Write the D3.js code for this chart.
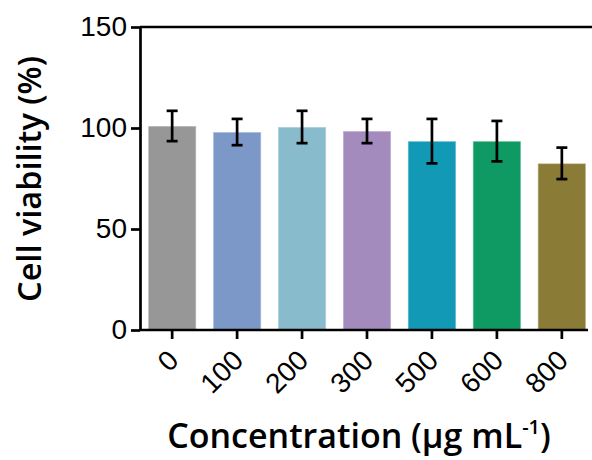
<!doctype html>
<html lang="en">
<head>
    <meta charset="utf-8">
    <script src="https://d3js.org/d3.v7.min.js"></script>
    <style>
        body { margin: 0; background: #fff; }
    </style>
</head>
<body>
    <div id="chart"></div>
    <script>
        // data
        var concentrations = ["0", "100", "200", "300", "500", "600", "800"];
        var viability = [101, 98, 100.5, 98.5, 93.5, 93.5, 82.5];
        var errors = [7.5, 6.5, 8, 6, 11, 10, 7.8];
        var barColors = ["#979797", "#7b98c8", "#88bbcc", "#a38bbd", "#1199b5", "#0e9a62", "#8a7b37"];
        var yTicks = [0, 50, 100, 150];

        var width = 592, height = 460;

        var svg = d3.select("#chart")
            .append("svg")
            .attr("width", width)
            .attr("height", height);

        var x = d3.scaleBand()
            .domain(concentrations)
            .range([140, 594])
            .paddingInner(0.26)
            .paddingOuter(0.125);

        var y = d3.scaleLinear()
            .domain([0, 150])
            .range([330, 27]);

        var data = concentrations.map(function (c, i) {
            return { c: c, v: viability[i], e: errors[i], color: barColors[i] };
        });

        // bars
        svg.append("g")
            .selectAll("rect")
            .data(data)
            .enter().append("rect")
            .attr("x", function (d) { return x(d.c); })
            .attr("y", function (d) { return y(d.v); })
            .attr("width", x.bandwidth())
            .attr("height", function (d) { return y(0) - y(d.v); })
            .attr("fill", function (d) { return d.color; })
            .attr("stroke", "#fff")
            .attr("stroke-opacity", 0.45)
            .attr("stroke-width", 1.5);

        // error bars
        var eb = svg.append("g")
            .attr("stroke", "#000")
            .attr("stroke-width", 2.7)
            .selectAll("g")
            .data(data)
            .enter().append("g");
        eb.append("line")
            .attr("x1", function (d) { return x(d.c) + x.bandwidth() / 2; })
            .attr("x2", function (d) { return x(d.c) + x.bandwidth() / 2; })
            .attr("y1", function (d) { return y(d.v + d.e); })
            .attr("y2", function (d) { return y(d.v - d.e); });
        eb.selectAll(".cap")
            .data(function (d) { return [d.v + d.e, d.v - d.e].map(function (v) { return { c: d.c, v: v }; }); })
            .enter().append("line")
            .attr("class", "cap")
            .attr("x1", function (d) { return x(d.c) + x.bandwidth() / 2 - 5.5; })
            .attr("x2", function (d) { return x(d.c) + x.bandwidth() / 2 + 5.5; })
            .attr("y1", function (d) { return y(d.v); })
            .attr("y2", function (d) { return y(d.v); });

        // y axis
        var yAxis = svg.append("g")
            .attr("transform", "translate(140,0)")
            .call(d3.axisLeft(y).tickValues(yTicks).tickSize(9).tickSizeOuter(0).tickPadding(4));
        yAxis.selectAll("line, path").attr("stroke", "#000").attr("stroke-width", 2.7);
        yAxis.selectAll("text")
            .attr("font-family", "'Liberation Sans', Arial, sans-serif")
            .attr("font-size", 28)
            .attr("fill", "#000");

        // x axis
        var xAxis = svg.append("g")
            .attr("transform", "translate(0,330)")
            .call(d3.axisBottom(x).tickSize(9).tickSizeOuter(0));
        xAxis.select(".domain").remove();
        xAxis.append("line")
            .attr("x1", 140).attr("x2", 588)
            .attr("y1", 0).attr("y2", 0);
        xAxis.selectAll("line").attr("stroke", "#000").attr("stroke-width", 2.7);
        xAxis.selectAll(".tick text")
            .attr("font-family", "'Liberation Sans', Arial, sans-serif")
            .attr("font-size", 28)
            .attr("fill", "#000")
            .attr("text-anchor", "end")
            .attr("dy", null)
            .attr("y", 0)
            .attr("transform", "translate(8,32) rotate(-45)");

        // top frame line
        svg.append("line")
            .attr("x1", 140).attr("x2", width)
            .attr("y1", y(150)).attr("y2", y(150))
            .attr("stroke", "#000")
            .attr("stroke-width", 2.7);

        // axis titles
        svg.append("text")
            .attr("transform", "translate(41,179) rotate(-90)")
            .attr("text-anchor", "middle")
            .attr("font-family", "'Open Sans', sans-serif")
            .attr("font-weight", 600)
            .attr("font-size", 32.5)
            .text("Cell viability (%)");

        var xt = svg.append("text")
            .attr("x", 359)
            .attr("y", 448)
            .attr("text-anchor", "middle")
            .attr("font-family", "'Open Sans', sans-serif")
            .attr("font-weight", 600)
            .attr("font-size", 34)
            .text("Concentration (µg mL");
        xt.append("tspan")
            .attr("dy", -14)
            .attr("font-size", 20)
            .text("-1");
        xt.append("tspan")
            .attr("dy", 14)
            .text(")");
    </script>
</body>
</html>
